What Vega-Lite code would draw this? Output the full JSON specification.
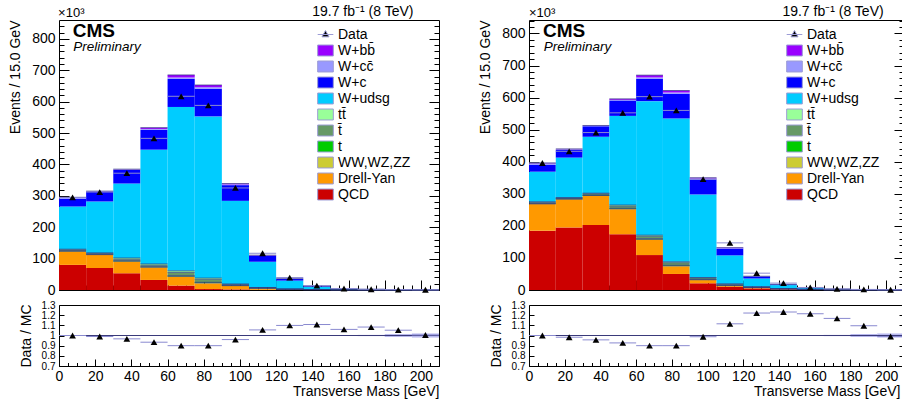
{
  "$schema": "https://vega.github.io/schema/vega-lite/v6.json",
  "padding": {"left": 7, "top": 4, "right": 0, "bottom": 0},
  "config": {
    "font": "Liberation Sans",
    "view": {"stroke": "#000000", "strokeWidth": 1},
    "axis": {"grid": false, "domain": false, "labelFont": "Liberation Sans", "titleFont": "Liberation Sans", "labelFontSize": 14, "titleFontSize": 14, "titleFontWeight": "normal", "labelColor": "#000000", "titleColor": "#000000", "tickColor": "#000000", "tickWidth": 1, "labelFlush": false, "labelOverlap": false},
    "text": {"font": "Liberation Sans", "color": "#000000"}
  },
  "datasets": {
    "L": [
      {"lo":0,"hi":15,"c":7.5,"QCD":80,"Drell-Yan":43,"WW,WZ,ZZ":0.6,"t":1,"t\u0304":3.4,"tt\u0304":2,"W+udsg":136,"W+c":25,"W+cc\u0304":2.5,"W+bb\u0304":1.5,"obs":295,"ratio":1.0,"blo":0.997,"bhi":1.003},
      {"lo":15,"hi":30,"c":22.5,"QCD":70,"Drell-Yan":42,"WW,WZ,ZZ":0.6,"t":1,"t\u0304":3.4,"tt\u0304":1,"W+udsg":164,"W+c":31,"W+cc\u0304":1.2,"W+bb\u0304":0.8,"obs":312,"ratio":0.99,"blo":0.997,"bhi":1.003},
      {"lo":30,"hi":45,"c":37.5,"QCD":53,"Drell-Yan":38,"WW,WZ,ZZ":0.8,"t":1.2,"t\u0304":5,"tt\u0304":4,"W+udsg":237,"W+c":43,"W+cc\u0304":1.5,"W+bb\u0304":1.5,"obs":372,"ratio":0.967,"blo":0.997,"bhi":1.003},
      {"lo":45,"hi":60,"c":52.5,"QCD":32,"Drell-Yan":40,"WW,WZ,ZZ":0.8,"t":1.2,"t\u0304":5,"tt\u0304":4,"W+udsg":364,"W+c":63,"W+cc\u0304":3,"W+bb\u0304":4,"obs":483,"ratio":0.934,"blo":0.997,"bhi":1.003},
      {"lo":60,"hi":75,"c":67.5,"QCD":14,"Drell-Yan":28,"WW,WZ,ZZ":1.5,"t":2,"t\u0304":10.5,"tt\u0304":5,"W+udsg":522,"W+c":90,"W+cc\u0304":4,"W+bb\u0304":8,"obs":617,"ratio":0.9,"blo":0.997,"bhi":1.003},
      {"lo":75,"hi":90,"c":82.5,"QCD":3,"Drell-Yan":18,"WW,WZ,ZZ":1.5,"t":2,"t\u0304":9.5,"tt\u0304":4,"W+udsg":515,"W+c":88,"W+cc\u0304":5,"W+bb\u0304":7,"obs":588,"ratio":0.9,"blo":0.997,"bhi":1.003},
      {"lo":90,"hi":105,"c":97.5,"QCD":2,"Drell-Yan":11,"WW,WZ,ZZ":0.8,"t":1,"t\u0304":3.2,"tt\u0304":1,"W+udsg":265,"W+c":50,"W+cc\u0304":2.5,"W+bb\u0304":2.5,"obs":325,"ratio":0.96,"blo":0.997,"bhi":1.003},
      {"lo":105,"hi":120,"c":112.5,"QCD":0.5,"Drell-Yan":4.5,"WW,WZ,ZZ":0.5,"t":0.6,"t\u0304":1.2,"tt\u0304":0.7,"W+udsg":82,"W+c":19,"W+cc\u0304":1,"W+bb\u0304":1,"obs":117,"ratio":1.055,"blo":0.997,"bhi":1.003},
      {"lo":120,"hi":135,"c":127.5,"QCD":0.2,"Drell-Yan":1.6,"WW,WZ,ZZ":0.3,"t":0.3,"t\u0304":0.4,"tt\u0304":0.2,"W+udsg":27,"W+c":5,"W+cc\u0304":0.5,"W+bb\u0304":0.5,"obs":39.6,"ratio":1.099,"blo":0.997,"bhi":1.003},
      {"lo":135,"hi":150,"c":142.5,"QCD":0.1,"Drell-Yan":0.6,"WW,WZ,ZZ":0.2,"t":0.2,"t\u0304":0.2,"tt\u0304":0.2,"W+udsg":9,"W+c":1.6,"W+cc\u0304":0.2,"W+bb\u0304":0.2,"obs":13.9,"ratio":1.108,"blo":0.997,"bhi":1.003},
      {"lo":150,"hi":165,"c":157.5,"QCD":0.05,"Drell-Yan":0.2,"WW,WZ,ZZ":0.1,"t":0.1,"t\u0304":0.1,"tt\u0304":0.05,"W+udsg":3.2,"W+c":0.5,"W+cc\u0304":0.1,"W+bb\u0304":0.1,"obs":4.8,"ratio":1.06,"blo":0.996,"bhi":1.004},
      {"lo":165,"hi":180,"c":172.5,"QCD":0.05,"Drell-Yan":0.1,"WW,WZ,ZZ":0.05,"t":0.05,"t\u0304":0.1,"tt\u0304":0.05,"W+udsg":1.5,"W+c":0.2,"W+cc\u0304":0.05,"W+bb\u0304":0.05,"obs":2.4,"ratio":1.083,"blo":0.994,"bhi":1.006},
      {"lo":180,"hi":195,"c":187.5,"QCD":0.02,"Drell-Yan":0.05,"WW,WZ,ZZ":0.03,"t":0.03,"t\u0304":0.04,"tt\u0304":0.03,"W+udsg":0.85,"W+c":0.1,"W+cc\u0304":0.03,"W+bb\u0304":0.02,"obs":1.26,"ratio":1.052,"blo":0.985,"bhi":1.015},
      {"lo":195,"hi":210,"c":202.5,"QCD":0.01,"Drell-Yan":0.03,"WW,WZ,ZZ":0.02,"t":0.02,"t\u0304":0.02,"tt\u0304":0.02,"W+udsg":0.5,"W+c":0.06,"W+cc\u0304":0.01,"W+bb\u0304":0.01,"obs":0.71,"ratio":1.005,"blo":0.98,"bhi":1.02}
    ],
    "R": [
      {"lo":0,"hi":15,"c":7.5,"QCD":185,"Drell-Yan":83,"WW,WZ,ZZ":0.6,"t":1,"t\u0304":3.9,"tt\u0304":1.5,"W+udsg":94,"W+c":21,"W+cc\u0304":4,"W+bb\u0304":2,"obs":396,"ratio":1.0,"blo":0.997,"bhi":1.003},
      {"lo":15,"hi":30,"c":22.5,"QCD":195,"Drell-Yan":88,"WW,WZ,ZZ":0.5,"t":0.8,"t\u0304":2.9,"tt\u0304":0.8,"W+udsg":125,"W+c":24,"W+cc\u0304":2,"W+bb\u0304":1,"obs":432.5,"ratio":0.983,"blo":0.997,"bhi":1.003},
      {"lo":30,"hi":45,"c":37.5,"QCD":203,"Drell-Yan":91,"WW,WZ,ZZ":0.7,"t":1.2,"t\u0304":4.1,"tt\u0304":2,"W+udsg":176,"W+c":33,"W+cc\u0304":1,"W+bb\u0304":1,"obs":491,"ratio":0.957,"blo":0.997,"bhi":1.003},
      {"lo":45,"hi":60,"c":52.5,"QCD":174,"Drell-Yan":78,"WW,WZ,ZZ":1,"t":2,"t\u0304":6.5,"tt\u0304":3.5,"W+udsg":278,"W+c":48,"W+cc\u0304":2,"W+bb\u0304":3,"obs":552.5,"ratio":0.927,"blo":0.997,"bhi":1.003},
      {"lo":60,"hi":75,"c":67.5,"QCD":109,"Drell-Yan":48,"WW,WZ,ZZ":1,"t":2,"t\u0304":7.5,"tt\u0304":3.5,"W+udsg":418,"W+c":70,"W+cc\u0304":4,"W+bb\u0304":7,"obs":603,"ratio":0.9,"blo":0.997,"bhi":1.003},
      {"lo":75,"hi":90,"c":82.5,"QCD":50,"Drell-Yan":24,"WW,WZ,ZZ":1.2,"t":2,"t\u0304":7.8,"tt\u0304":3,"W+udsg":447,"W+c":77,"W+cc\u0304":4,"W+bb\u0304":6,"obs":560,"ratio":0.9,"blo":0.997,"bhi":1.003},
      {"lo":90,"hi":105,"c":97.5,"QCD":21,"Drell-Yan":10,"WW,WZ,ZZ":0.8,"t":1.2,"t\u0304":4.5,"tt\u0304":1.5,"W+udsg":259,"W+c":47,"W+cc\u0304":2.5,"W+bb\u0304":2.5,"obs":346,"ratio":0.988,"blo":0.997,"bhi":1.003},
      {"lo":105,"hi":120,"c":112.5,"QCD":10,"Drell-Yan":3,"WW,WZ,ZZ":0.6,"t":1,"t\u0304":3.4,"tt\u0304":1,"W+udsg":89,"W+c":21,"W+cc\u0304":1.5,"W+bb\u0304":1.5,"obs":147,"ratio":1.115,"blo":0.997,"bhi":1.003},
      {"lo":120,"hi":135,"c":127.5,"QCD":5,"Drell-Yan":2,"WW,WZ,ZZ":0.5,"t":0.6,"t\u0304":1.5,"tt\u0304":0.4,"W+udsg":26,"W+c":6,"W+cc\u0304":0.5,"W+bb\u0304":0.5,"obs":52.5,"ratio":1.221,"blo":0.997,"bhi":1.003},
      {"lo":135,"hi":150,"c":142.5,"QCD":2,"Drell-Yan":0.8,"WW,WZ,ZZ":0.3,"t":0.3,"t\u0304":0.7,"tt\u0304":0.2,"W+udsg":11,"W+c":1.8,"W+cc\u0304":0.2,"W+bb\u0304":0.2,"obs":21.5,"ratio":1.231,"blo":0.997,"bhi":1.003},
      {"lo":150,"hi":165,"c":157.5,"QCD":0.8,"Drell-Yan":0.3,"WW,WZ,ZZ":0.15,"t":0.15,"t\u0304":0.3,"tt\u0304":0.1,"W+udsg":4,"W+c":0.6,"W+cc\u0304":0.05,"W+bb\u0304":0.05,"obs":7.9,"ratio":1.214,"blo":0.996,"bhi":1.004},
      {"lo":165,"hi":180,"c":172.5,"QCD":0.4,"Drell-Yan":0.15,"WW,WZ,ZZ":0.08,"t":0.07,"t\u0304":0.15,"tt\u0304":0.05,"W+udsg":1.8,"W+c":0.25,"W+cc\u0304":0.03,"W+bb\u0304":0.02,"obs":3.5,"ratio":1.168,"blo":0.994,"bhi":1.006},
      {"lo":180,"hi":195,"c":187.5,"QCD":0.2,"Drell-Yan":0.08,"WW,WZ,ZZ":0.04,"t":0.04,"t\u0304":0.08,"tt\u0304":0.03,"W+udsg":0.95,"W+c":0.12,"W+cc\u0304":0.02,"W+bb\u0304":0.02,"obs":1.73,"ratio":1.096,"blo":0.985,"bhi":1.015},
      {"lo":195,"hi":210,"c":202.5,"QCD":0.1,"Drell-Yan":0.04,"WW,WZ,ZZ":0.02,"t":0.02,"t\u0304":0.05,"tt\u0304":0.02,"W+udsg":0.5,"W+c":0.07,"W+cc\u0304":0.01,"W+bb\u0304":0.01,"obs":0.83,"ratio":0.99,"blo":0.98,"bhi":1.02}
    ]
  },
  "resolve": {"scale": {"color": "independent"}, "legend": {"color": "independent"}},
  "spacing": 37,
  "hconcat": [
    {
      "data": {"name": "L"},
      "bounds": "flush",
      "spacing": 15,
      "vconcat": [
        {
          "width": 380, "height": 270,
          "layer": [
            {
              "transform": [
                {"fold": ["QCD","Drell-Yan","WW,WZ,ZZ","t","t\u0304","tt\u0304","W+udsg","W+c","W+cc\u0304","W+bb\u0304"], "as": ["process","n"]},
                {"stack": "n", "groupby": ["lo"], "as": ["y0","y1"]}
              ],
              "mark": {"type": "rect"},
              "encoding": {
                "x": {"field": "lo", "type": "quantitative", "scale": {"domain": [0,210], "nice": false, "zero": false}, "axis": {"orient": "bottom", "values": [0,20,40,60,80,100,120,140,160,180,200], "labels": false, "tickSize": -10, "title": null}},
                "x2": {"field": "hi"},
                "y": {"field": "y0", "type": "quantitative", "scale": {"domain": [0,860], "nice": false}, "axis": {"orient": "left", "values": [0,100,200,300,400,500,600,700,800], "tickSize": -10, "labelPadding": 14, "title": "Events / 15.0 GeV", "titleAnchor": "end", "titlePadding": 9, "minExtent": 28, "maxExtent": 28}},
                "y2": {"field": "y1"},
                "color": {"field": "process", "type": "nominal",
                  "scale": {"domain": ["Data","W+bb\u0304","W+cc\u0304","W+c","W+udsg","tt\u0304","t\u0304","t","WW,WZ,ZZ","Drell-Yan","QCD"], "range": ["#000000","#9900ff","#9999ff","#0000ff","#00ccff","#99ff99","#669966","#00cc00","#cccc33","#ff9900","#cc0000"]},
                  "legend": {"orient": "none", "legendX": 258, "legendY": 6, "title": null, "padding": 0, "labelFontSize": 14, "labelFont": "Liberation Sans", "labelColor": "#000000", "symbolSize": 245, "symbolType": "M-1,-0.7H1V0.7H-1Z", "symbolStrokeColor": "#9c9cd6", "symbolStrokeWidth": 1, "symbolOpacity": 1, "rowPadding": 0, "labelOffset": 4, "labelLimit": 200,
                    "encode": {"symbols": {"update": {"shape": {"signal": "datum.value === 'Data' ? 'M-1,0H1M0,-0.5L0.45,0.3L-0.45,0.3Z' : 'M-1,-0.7H1V0.7H-1Z'"}, "stroke": {"value": "#9c9cd6"}, "strokeWidth": {"value": 1}}}}}
                }
              }
            },
            {
              "transform": [
                {"fold": ["QCD","Drell-Yan","WW,WZ,ZZ","t","t\u0304","tt\u0304","W+udsg","W+c","W+cc\u0304","W+bb\u0304"], "as": ["process","n"]},
                {"stack": "n", "groupby": ["lo"], "as": ["y0","y1"]},
                {"filter": {"field": "process", "oneOf": ["WW,WZ,ZZ","t","t\u0304","tt\u0304","W+bb\u0304"]}}
              ],
              "mark": {"type": "rule", "color": "#2e3a80", "strokeWidth": 0.7},
              "encoding": {
                "x": {"field": "lo", "type": "quantitative", "axis": null},
                "x2": {"field": "hi"},
                "y": {"field": "y1", "type": "quantitative", "axis": null}
              }
            },
            {
              "mark": {"type": "rule", "color": "#8a8ad0", "strokeWidth": 1},
              "encoding": {
                "x": {"field": "lo", "type": "quantitative", "axis": {"orient": "top", "ticks": false, "labels": false, "title": null}},
                "x2": {"field": "hi"},
                "y": {"field": "obs", "type": "quantitative", "axis": {"orient": "right", "values": [0,100,200,300,400,500,600,700,800], "tickSize": -10, "labels": false, "title": null}}
              }
            },
            {
              "mark": {"type": "point", "shape": "triangle-up", "filled": true, "color": "#000000", "size": 45, "opacity": 1},
              "encoding": {
                "x": {"field": "c", "type": "quantitative", "axis": {"orient": "bottom", "values": [0,5,10,15,20,25,30,35,40,45,50,55,60,65,70,75,80,85,90,95,100,105,110,115,120,125,130,135,140,145,150,155,160,165,170,175,180,185,190,195,200,205,210], "tickSize": -5, "labels": false, "title": null}},
                "y": {"field": "obs", "type": "quantitative", "axis": {"orient": "left", "values": [0,20,40,60,80,100,120,140,160,180,200,220,240,260,280,300,320,340,360,380,400,420,440,460,480,500,520,540,560,580,600,620,640,660,680,700,720,740,760,780,800,820,840], "tickSize": -5, "labels": false, "title": null}}
              }
            },
            {
              "data": {"values": [{}]},
              "mark": {"type": "text", "text": "CMS", "align": "left", "baseline": "alphabetic", "fontSize": 19, "fontWeight": "bold"},
              "encoding": {
                "x": {"datum": 7.6, "type": "quantitative", "axis": null},
                "y": {"datum": 806, "type": "quantitative", "axis": {"orient": "right", "values": [0,20,40,60,80,100,120,140,160,180,200,220,240,260,280,300,320,340,360,380,400,420,440,460,480,500,520,540,560,580,600,620,640,660,680,700,720,740,760,780,800,820,840], "tickSize": -5, "labels": false, "title": null}}
              }
            },
            {
              "data": {"values": [{}]},
              "mark": {"type": "text", "text": "Preliminary", "align": "left", "baseline": "alphabetic", "fontSize": 13.5, "fontStyle": "italic"},
              "encoding": {"x": {"datum": 7.9, "type": "quantitative", "axis": null}, "y": {"datum": 761, "type": "quantitative", "axis": null}}
            },
            {
              "data": {"values": [{}]},
              "mark": {"type": "text", "text": "×10³", "align": "left", "baseline": "alphabetic", "fontSize": 13},
              "encoding": {"x": {"datum": -0.5, "type": "quantitative", "axis": null}, "y": {"datum": 868, "type": "quantitative", "axis": null}}
            },
            {
              "data": {"values": [{}]},
              "mark": {"type": "text", "text": "19.7 fb⁻¹ (8 TeV)", "align": "right", "baseline": "alphabetic", "fontSize": 14},
              "encoding": {"x": {"datum": 195.9, "type": "quantitative", "axis": null}, "y": {"datum": 873, "type": "quantitative", "axis": null}}
            }
          ]
        },
        {
          "width": 380, "height": 61,
          "layer": [
            {
              "mark": {"type": "rect", "color": "#b8b8ee"},
              "encoding": {
                "x": {"field": "lo", "type": "quantitative", "scale": {"domain": [0,210], "nice": false, "zero": false}, "axis": {"orient": "bottom", "values": [0,20,40,60,80,100,120,140,160,180,200], "tickSize": -7, "labelPadding": 10, "title": "Transverse Mass [GeV]", "titleAnchor": "end", "titlePadding": 1, "minExtent": 17, "maxExtent": 17}},
                "x2": {"field": "hi"},
                "y": {"field": "blo", "type": "quantitative", "scale": {"domain": [0.7,1.3], "nice": false, "zero": false}, "axis": {"orient": "left", "values": [0.7,0.8,0.9,1,1.1,1.2,1.3], "format": "~g", "labelFontSize": 10, "tickSize": -5, "labelPadding": 9, "title": "Data / MC", "titlePadding": 8, "minExtent": 18, "maxExtent": 18}},
                "y2": {"field": "bhi"}
              }
            },
            {
              "data": {"values": [{}]},
              "mark": {"type": "rule", "color": "#3a3a7a", "strokeWidth": 1},
              "encoding": {"y": {"datum": 1, "type": "quantitative", "axis": {"orient": "right", "values": [0.7,0.8,0.9,1,1.1,1.2,1.3], "tickSize": -5, "labels": false, "title": null}}}
            },
            {
              "mark": {"type": "rule", "color": "#8a8ad0", "strokeWidth": 1},
              "encoding": {
                "x": {"field": "lo", "type": "quantitative", "axis": {"orient": "top", "ticks": false, "labels": false, "title": null}},
                "x2": {"field": "hi"},
                "y": {"field": "ratio", "type": "quantitative", "axis": null}
              }
            },
            {
              "mark": {"type": "point", "shape": "triangle-up", "filled": true, "color": "#000000", "size": 45, "opacity": 1},
              "encoding": {
                "x": {"field": "c", "type": "quantitative", "axis": {"orient": "bottom", "values": [0,5,10,15,20,25,30,35,40,45,50,55,60,65,70,75,80,85,90,95,100,105,110,115,120,125,130,135,140,145,150,155,160,165,170,175,180,185,190,195,200,205,210], "tickSize": -3.5, "labels": false, "title": null}},
                "y": {"field": "ratio", "type": "quantitative", "axis": null}
              }
            }
          ]
        }
      ]
    },
    {
      "data": {"name": "R"},
      "bounds": "flush",
      "spacing": 15,
      "vconcat": [
        {
          "width": 375, "height": 270,
          "layer": [
            {
              "transform": [
                {"fold": ["QCD","Drell-Yan","WW,WZ,ZZ","t","t\u0304","tt\u0304","W+udsg","W+c","W+cc\u0304","W+bb\u0304"], "as": ["process","n"]},
                {"stack": "n", "groupby": ["lo"], "as": ["y0","y1"]}
              ],
              "mark": {"type": "rect"},
              "encoding": {
                "x": {"field": "lo", "type": "quantitative", "scale": {"domain": [0,210], "nice": false, "zero": false}, "axis": {"orient": "bottom", "values": [0,20,40,60,80,100,120,140,160,180,200], "labels": false, "tickSize": -10, "title": null}},
                "x2": {"field": "hi"},
                "y": {"field": "y0", "type": "quantitative", "scale": {"domain": [0,842], "nice": false}, "axis": {"orient": "left", "values": [0,100,200,300,400,500,600,700,800], "tickSize": -10, "labelPadding": 14, "title": "Events / 15.0 GeV", "titleAnchor": "end", "titlePadding": 9, "minExtent": 28, "maxExtent": 28}},
                "y2": {"field": "y1"},
                "color": {"field": "process", "type": "nominal",
                  "scale": {"domain": ["Data","W+bb\u0304","W+cc\u0304","W+c","W+udsg","tt\u0304","t\u0304","t","WW,WZ,ZZ","Drell-Yan","QCD"], "range": ["#000000","#9900ff","#9999ff","#0000ff","#00ccff","#99ff99","#669966","#00cc00","#cccc33","#ff9900","#cc0000"]},
                  "legend": {"orient": "none", "legendX": 257, "legendY": 6, "title": null, "padding": 0, "labelFontSize": 14, "labelFont": "Liberation Sans", "labelColor": "#000000", "symbolSize": 245, "symbolType": "M-1,-0.7H1V0.7H-1Z", "symbolStrokeColor": "#9c9cd6", "symbolStrokeWidth": 1, "symbolOpacity": 1, "rowPadding": 0, "labelOffset": 4, "labelLimit": 200,
                    "encode": {"symbols": {"update": {"shape": {"signal": "datum.value === 'Data' ? 'M-1,0H1M0,-0.5L0.45,0.3L-0.45,0.3Z' : 'M-1,-0.7H1V0.7H-1Z'"}, "stroke": {"value": "#9c9cd6"}, "strokeWidth": {"value": 1}}}}}
                }
              }
            },
            {
              "transform": [
                {"fold": ["QCD","Drell-Yan","WW,WZ,ZZ","t","t\u0304","tt\u0304","W+udsg","W+c","W+cc\u0304","W+bb\u0304"], "as": ["process","n"]},
                {"stack": "n", "groupby": ["lo"], "as": ["y0","y1"]},
                {"filter": {"field": "process", "oneOf": ["WW,WZ,ZZ","t","t\u0304","tt\u0304","W+bb\u0304"]}}
              ],
              "mark": {"type": "rule", "color": "#2e3a80", "strokeWidth": 0.7},
              "encoding": {
                "x": {"field": "lo", "type": "quantitative", "axis": null},
                "x2": {"field": "hi"},
                "y": {"field": "y1", "type": "quantitative", "axis": null}
              }
            },
            {
              "mark": {"type": "rule", "color": "#8a8ad0", "strokeWidth": 1},
              "encoding": {
                "x": {"field": "lo", "type": "quantitative", "axis": {"orient": "top", "ticks": false, "labels": false, "title": null}},
                "x2": {"field": "hi"},
                "y": {"field": "obs", "type": "quantitative", "axis": {"orient": "right", "values": [0,100,200,300,400,500,600,700,800], "tickSize": -10, "labels": false, "title": null}}
              }
            },
            {
              "mark": {"type": "point", "shape": "triangle-up", "filled": true, "color": "#000000", "size": 45, "opacity": 1},
              "encoding": {
                "x": {"field": "c", "type": "quantitative", "axis": {"orient": "bottom", "values": [0,5,10,15,20,25,30,35,40,45,50,55,60,65,70,75,80,85,90,95,100,105,110,115,120,125,130,135,140,145,150,155,160,165,170,175,180,185,190,195,200,205,210], "tickSize": -5, "labels": false, "title": null}},
                "y": {"field": "obs", "type": "quantitative", "axis": {"orient": "left", "values": [0,20,40,60,80,100,120,140,160,180,200,220,240,260,280,300,320,340,360,380,400,420,440,460,480,500,520,540,560,580,600,620,640,660,680,700,720,740,760,780,800,820,840], "tickSize": -5, "labels": false, "title": null}}
              }
            },
            {
              "data": {"values": [{}]},
              "mark": {"type": "text", "text": "CMS", "align": "left", "baseline": "alphabetic", "fontSize": 19, "fontWeight": "bold"},
              "encoding": {
                "x": {"datum": 7.8, "type": "quantitative", "axis": null},
                "y": {"datum": 789, "type": "quantitative", "axis": {"orient": "right", "values": [0,20,40,60,80,100,120,140,160,180,200,220,240,260,280,300,320,340,360,380,400,420,440,460,480,500,520,540,560,580,600,620,640,660,680,700,720,740,760,780,800,820,840], "tickSize": -5, "labels": false, "title": null}}
              }
            },
            {
              "data": {"values": [{}]},
              "mark": {"type": "text", "text": "Preliminary", "align": "left", "baseline": "alphabetic", "fontSize": 13.5, "fontStyle": "italic"},
              "encoding": {"x": {"datum": 8.2, "type": "quantitative", "axis": null}, "y": {"datum": 745, "type": "quantitative", "axis": null}}
            },
            {
              "data": {"values": [{}]},
              "mark": {"type": "text", "text": "×10³", "align": "left", "baseline": "alphabetic", "fontSize": 13},
              "encoding": {"x": {"datum": 0, "type": "quantitative", "axis": null}, "y": {"datum": 850, "type": "quantitative", "axis": null}}
            },
            {
              "data": {"values": [{}]},
              "mark": {"type": "text", "text": "19.7 fb⁻¹ (8 TeV)", "align": "right", "baseline": "alphabetic", "fontSize": 14},
              "encoding": {"x": {"datum": 198.6, "type": "quantitative", "axis": null}, "y": {"datum": 854, "type": "quantitative", "axis": null}}
            }
          ]
        },
        {
          "width": 375, "height": 61,
          "layer": [
            {
              "mark": {"type": "rect", "color": "#b8b8ee"},
              "encoding": {
                "x": {"field": "lo", "type": "quantitative", "scale": {"domain": [0,210], "nice": false, "zero": false}, "axis": {"orient": "bottom", "values": [0,20,40,60,80,100,120,140,160,180,200], "tickSize": -7, "labelPadding": 10, "title": "Transverse Mass [GeV]", "titleAnchor": "end", "titleAlign": "right", "titleX": 371, "titlePadding": 1, "minExtent": 17, "maxExtent": 17}},
                "x2": {"field": "hi"},
                "y": {"field": "blo", "type": "quantitative", "scale": {"domain": [0.7,1.3], "nice": false, "zero": false}, "axis": {"orient": "left", "values": [0.7,0.8,0.9,1,1.1,1.2,1.3], "format": "~g", "labelFontSize": 10, "tickSize": -5, "labelPadding": 9, "title": "Data / MC", "titlePadding": 8, "minExtent": 18, "maxExtent": 18}},
                "y2": {"field": "bhi"}
              }
            },
            {
              "data": {"values": [{}]},
              "mark": {"type": "rule", "color": "#3a3a7a", "strokeWidth": 1},
              "encoding": {"y": {"datum": 1, "type": "quantitative", "axis": {"orient": "right", "values": [0.7,0.8,0.9,1,1.1,1.2,1.3], "tickSize": -5, "labels": false, "title": null}}}
            },
            {
              "mark": {"type": "rule", "color": "#8a8ad0", "strokeWidth": 1},
              "encoding": {
                "x": {"field": "lo", "type": "quantitative", "axis": {"orient": "top", "ticks": false, "labels": false, "title": null}},
                "x2": {"field": "hi"},
                "y": {"field": "ratio", "type": "quantitative", "axis": null}
              }
            },
            {
              "mark": {"type": "point", "shape": "triangle-up", "filled": true, "color": "#000000", "size": 45, "opacity": 1},
              "encoding": {
                "x": {"field": "c", "type": "quantitative", "axis": {"orient": "bottom", "values": [0,5,10,15,20,25,30,35,40,45,50,55,60,65,70,75,80,85,90,95,100,105,110,115,120,125,130,135,140,145,150,155,160,165,170,175,180,185,190,195,200,205,210], "tickSize": -3.5, "labels": false, "title": null}},
                "y": {"field": "ratio", "type": "quantitative", "axis": null}
              }
            }
          ]
        }
      ]
    }
  ]
}
